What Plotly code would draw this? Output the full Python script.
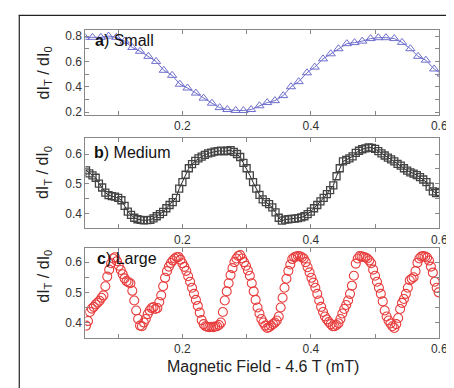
import plotly.graph_objects as go

# ---------------- data ----------------
x_small = [0.048, 0.060, 0.073, 0.085, 0.097, 0.110, 0.122, 0.134, 0.147, 0.159,
           0.171, 0.184, 0.196, 0.208, 0.221, 0.233, 0.246, 0.258, 0.270, 0.283,
           0.295, 0.307, 0.320, 0.332, 0.344, 0.357, 0.369, 0.381, 0.394, 0.406,
           0.419, 0.431, 0.443, 0.456, 0.468, 0.480, 0.493, 0.505, 0.517, 0.530,
           0.542, 0.555, 0.567, 0.579, 0.592, 0.604]
y_small = [0.79, 0.79, 0.79, 0.80, 0.79, 0.76, 0.71, 0.68, 0.64, 0.60,
           0.53, 0.49, 0.42, 0.39, 0.35, 0.31, 0.27, 0.235, 0.22, 0.213,
           0.212, 0.22, 0.25, 0.275, 0.29, 0.33, 0.40, 0.44, 0.51, 0.555,
           0.62, 0.66, 0.70, 0.74, 0.748, 0.76, 0.78, 0.787, 0.787, 0.78,
           0.75, 0.70, 0.64, 0.61, 0.54, 0.50]

x_medium = [0.050, 0.055, 0.060, 0.065, 0.070, 0.075, 0.080, 0.085, 0.090, 0.095,
            0.100, 0.105, 0.110, 0.115, 0.120, 0.125, 0.130, 0.135, 0.140, 0.145,
            0.150, 0.155, 0.160, 0.165, 0.170, 0.175, 0.180, 0.185, 0.190, 0.195,
            0.200, 0.205, 0.210, 0.215, 0.220, 0.225, 0.230, 0.235, 0.240, 0.245,
            0.250, 0.255, 0.260, 0.265, 0.270, 0.275, 0.280, 0.285, 0.290, 0.295,
            0.300, 0.305, 0.310, 0.315, 0.320, 0.325, 0.330, 0.335, 0.340, 0.345,
            0.350, 0.355, 0.360, 0.365, 0.370, 0.375, 0.380, 0.385, 0.390, 0.395,
            0.400, 0.405, 0.410, 0.415, 0.420, 0.425, 0.430, 0.435, 0.440, 0.445,
            0.450, 0.455, 0.460, 0.465, 0.470, 0.475, 0.480, 0.485, 0.490, 0.495,
            0.500, 0.505, 0.510, 0.515, 0.520, 0.525, 0.530, 0.535, 0.540, 0.545,
            0.550, 0.555, 0.560, 0.565, 0.570, 0.575, 0.580, 0.585, 0.590, 0.595,
            0.600]
y_medium = [0.545, 0.535, 0.528, 0.520, 0.500, 0.487, 0.470, 0.461, 0.458, 0.456,
            0.452, 0.444, 0.425, 0.406, 0.395, 0.385, 0.380, 0.378, 0.376, 0.377,
            0.378, 0.383, 0.390, 0.397, 0.405, 0.417, 0.428, 0.438, 0.452, 0.483,
            0.505, 0.530, 0.552, 0.566, 0.577, 0.585, 0.591, 0.597, 0.602, 0.605,
            0.608, 0.610, 0.611, 0.609, 0.611, 0.613, 0.607, 0.600, 0.590, 0.570,
            0.552, 0.528, 0.505, 0.483, 0.462, 0.447, 0.438, 0.431, 0.420, 0.403,
            0.385, 0.375, 0.379, 0.380, 0.381, 0.382, 0.384, 0.386, 0.390, 0.397,
            0.406, 0.417, 0.428, 0.440, 0.452, 0.465, 0.478, 0.494, 0.525, 0.552,
            0.575, 0.580, 0.585, 0.592, 0.604, 0.611, 0.616, 0.619, 0.622, 0.621,
            0.617, 0.610, 0.602, 0.595, 0.588, 0.582, 0.575, 0.567, 0.561, 0.552,
            0.544, 0.538, 0.534, 0.529, 0.522, 0.514, 0.505, 0.490, 0.474, 0.468,
            0.472]

x_large = [0.050, 0.053, 0.056, 0.059, 0.062, 0.065, 0.068, 0.071, 0.074, 0.077,
           0.080, 0.083, 0.086, 0.089, 0.092, 0.095, 0.098, 0.101, 0.104, 0.107,
           0.110, 0.113, 0.116, 0.119, 0.122, 0.125, 0.128, 0.131, 0.134, 0.137,
           0.140, 0.143, 0.146, 0.149, 0.152, 0.155, 0.158, 0.161, 0.164, 0.167,
           0.170, 0.173, 0.176, 0.179, 0.182, 0.185, 0.188, 0.191, 0.194, 0.197,
           0.200, 0.203, 0.206, 0.209, 0.212, 0.215, 0.218, 0.221, 0.224, 0.227,
           0.230, 0.233, 0.236, 0.239, 0.242, 0.245, 0.248, 0.251, 0.254, 0.257,
           0.260, 0.263, 0.266, 0.269, 0.272, 0.275, 0.278, 0.281, 0.284, 0.287,
           0.290, 0.293, 0.296, 0.299, 0.302, 0.305, 0.308, 0.311, 0.314, 0.317,
           0.320, 0.323, 0.326, 0.329, 0.332, 0.335, 0.338, 0.341, 0.344, 0.347,
           0.350, 0.353, 0.356, 0.359, 0.362, 0.365, 0.368, 0.371, 0.374, 0.377,
           0.380, 0.383, 0.386, 0.389, 0.392, 0.395, 0.398, 0.401, 0.404, 0.407,
           0.410, 0.413, 0.416, 0.419, 0.422, 0.425, 0.428, 0.431, 0.434, 0.437,
           0.440, 0.443, 0.446, 0.449, 0.452, 0.455, 0.458, 0.461, 0.464, 0.467,
           0.470, 0.473, 0.476, 0.479, 0.482, 0.485, 0.488, 0.491, 0.494, 0.497,
           0.500, 0.503, 0.506, 0.509, 0.512, 0.515, 0.518, 0.521, 0.524, 0.527,
           0.530, 0.533, 0.536, 0.539, 0.542, 0.545, 0.548, 0.551, 0.554, 0.557,
           0.560, 0.563, 0.566, 0.569, 0.572, 0.575, 0.578, 0.581, 0.584, 0.587,
           0.590, 0.593, 0.596, 0.599]
y_large = [0.390, 0.405, 0.435, 0.446, 0.452, 0.460, 0.466, 0.472, 0.482, 0.490,
           0.520, 0.552, 0.575, 0.596, 0.612, 0.616, 0.603, 0.588, 0.574, 0.560,
           0.546, 0.537, 0.533, 0.530, 0.505, 0.473, 0.440, 0.412, 0.390, 0.388,
           0.400, 0.412, 0.428, 0.440, 0.448, 0.451, 0.445, 0.448, 0.468, 0.490,
           0.520, 0.548, 0.570, 0.585, 0.597, 0.605, 0.612, 0.616, 0.617, 0.608,
           0.596, 0.584, 0.571, 0.553, 0.535, 0.515, 0.495, 0.475, 0.455, 0.433,
           0.408, 0.395, 0.388, 0.386, 0.385, 0.386, 0.385, 0.387, 0.388, 0.392,
           0.400, 0.435, 0.473, 0.503, 0.530, 0.557, 0.580, 0.600, 0.612, 0.620,
           0.623, 0.612, 0.600, 0.588, 0.572, 0.555, 0.530, 0.503, 0.475, 0.450,
           0.430, 0.412, 0.400, 0.390, 0.382, 0.385, 0.390, 0.395, 0.400, 0.407,
           0.420, 0.450, 0.482, 0.515, 0.545, 0.571, 0.592, 0.610, 0.616, 0.618,
           0.620, 0.619, 0.616, 0.612, 0.600, 0.583, 0.566, 0.548, 0.532, 0.515,
           0.495, 0.473, 0.452, 0.435, 0.420, 0.410, 0.402, 0.395, 0.388, 0.388,
           0.392, 0.398, 0.412, 0.430, 0.445, 0.458, 0.473, 0.495, 0.522, 0.555,
           0.595, 0.612, 0.620, 0.619, 0.617, 0.615, 0.612, 0.605, 0.596, 0.575,
           0.555, 0.535, 0.515, 0.495, 0.470, 0.440, 0.420, 0.407, 0.397, 0.388,
           0.382, 0.395, 0.415, 0.445, 0.465, 0.478, 0.495, 0.515, 0.540, 0.545,
           0.550, 0.570, 0.598, 0.612, 0.618, 0.620, 0.618, 0.615, 0.605, 0.585,
           0.565, 0.535, 0.515, 0.500]

x_tickvals = [0.2, 0.4, 0.6]
x_ticktext = ["0.2", "0.4", "0.6"]
ya_tickvals = [0.2, 0.4, 0.6, 0.8]
ya_ticktext = ["0.2", "0.4", "0.6", "0.8"]
ybc_tickvals = [0.4, 0.5, 0.6]
ybc_ticktext = ["0.4", "0.5", "0.6"]

panel_labels = ["<b>a</b>) Small", "<b>b</b>) Medium", "<b>c</b>) Large"]
y_title = "dI<sub>T</sub> / dI<sub>0</sub>"
x_title = "Magnetic Field - 4.6 T (mT)"

# ---------------- layout helpers ----------------
W, H = 454, 388
FONT = "Liberation Sans, Arial, sans-serif"

def px_x(p):
    return p / W

def px_y(p):
    return 1 - p / H

x_dom = [px_x(79), px_x(440)]
doms = [(22, 108), (132, 223), (243, 334)]

fig = go.Figure()

fig.add_trace(go.Scatter(
    x=x_small, y=y_small, mode="lines+markers", xaxis="x", yaxis="y",
    line=dict(color="rgb(110,110,205)", width=1),
    marker=dict(symbol="triangle-up-open", size=8, color="rgb(110,110,205)",
                line=dict(width=1)),
    showlegend=False))

fig.add_trace(go.Scatter(
    x=x_medium, y=y_medium, mode="lines+markers", xaxis="x2", yaxis="y2",
    line=dict(color="#222", width=1),
    marker=dict(symbol="square-open", size=7, color="#444",
                line=dict(width=1.3)),
    showlegend=False))

fig.add_trace(go.Scatter(
    x=x_large, y=y_large, mode="markers", xaxis="x3", yaxis="y3",
    marker=dict(symbol="circle-open", size=9, color="rgb(232,60,60)",
                line=dict(width=1.1)),
    showlegend=False))

axis_common = dict(
    showline=True, linecolor="#888", linewidth=1, mirror="ticks",
    ticks="inside", ticklen=4, tickcolor="#888", showgrid=False, zeroline=False,
    ticklabeloverflow="allow",
    tickfont=dict(family=FONT, size=12, color="#333"),
)

yranges = [[0.18, 0.85], [0.35, 0.653], [0.35, 0.647]]
yminor = [0.1, 0.05, 0.05]
for i, (t, b) in enumerate(doms):
    sfx = "" if i == 0 else str(i + 1)
    fig.update_layout(**{
        "xaxis" + sfx: dict(domain=x_dom, range=[0.049, 0.6], anchor="y" + sfx,
                            tickmode="array", tickvals=x_tickvals,
                            ticktext=x_ticktext,
                            minor=dict(dtick=0.1, tick0=0, ticks="inside",
                                       ticklen=4, tickcolor="#888"),
                            **axis_common),
        "yaxis" + sfx: dict(domain=[px_y(b), px_y(t)], range=yranges[i],
                            anchor="x" + sfx, tickmode="array",
                            tickvals=ya_tickvals if i == 0 else ybc_tickvals,
                            ticktext=ya_ticktext if i == 0 else ybc_ticktext,
                            minor=dict(dtick=yminor[i], tick0=0, ticks="inside",
                                       ticklen=4, tickcolor="#888"),
                            **axis_common),
    })

annotations = []
label_pos = [(87, 33), (86, 146), (89, 254)]
for (lx, ly), txt in zip(label_pos, panel_labels):
    annotations.append(dict(x=px_x(lx), y=px_y(ly), xref="paper", yref="paper",
                            text=txt, showarrow=False, xanchor="left",
                            yanchor="middle",
                            font=dict(family=FONT, size=16, color="#111")))
for cy in [66, 167, 272]:
    annotations.append(dict(x=px_x(37), y=px_y(cy), xref="paper", yref="paper",
                            text=y_title, textangle=-90, showarrow=False,
                            xanchor="center", yanchor="middle",
                            font=dict(family=FONT, size=16, color="#222")))
annotations.append(dict(x=px_x(260), y=px_y(363), xref="paper", yref="paper",
                        text=x_title, showarrow=False, xanchor="center",
                        yanchor="middle",
                        font=dict(family=FONT, size=16, color="#222")))

shapes = [
    dict(type="line", xref="paper", yref="paper", x0=px_x(11.5), x1=px_x(11.5),
         y0=px_y(7), y1=px_y(400), line=dict(color="#222", width=1.2)),
    dict(type="line", xref="paper", yref="paper", x0=px_x(11), x1=px_x(449),
         y0=px_y(7.5), y1=px_y(7.5), line=dict(color="#222", width=1.2)),
]

fig.update_layout(
    width=W, height=H, margin=dict(l=0, r=0, t=0, b=0),
    paper_bgcolor="white", plot_bgcolor="white",
    annotations=annotations, shapes=shapes,
    font=dict(family=FONT),
)

fig.write_html("out.html")
